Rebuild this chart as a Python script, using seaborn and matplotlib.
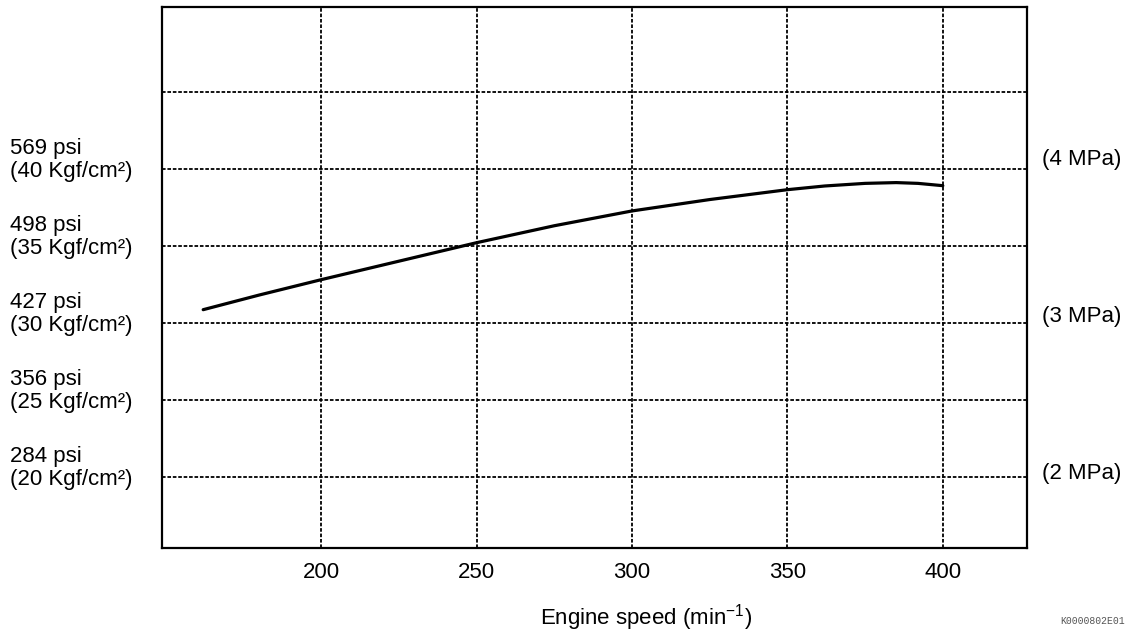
import numpy as np
import pandas as pd
import matplotlib
matplotlib.use("Agg")
import matplotlib.pyplot as plt
import seaborn as sns

# pressure curve (engine speed, kgf/cm2)
speed = [162, 180, 200, 225, 250, 275, 300, 325, 350, 362, 375, 385, 392, 400]
pressure = [30.85, 31.8, 32.8, 34.0, 35.2, 36.3, 37.26, 38.0, 38.64, 38.88, 39.05, 39.1, 39.05, 38.9]

x_ticks = [200, 250, 300, 350, 400]
kgf_ticks = [20, 25, 30, 35, 40]
psi_labels = ["284 psi", "356 psi", "427 psi", "498 psi", "569 psi"]
mpa_ticks = [2, 3, 4]

sns.set_theme(style="white")
plt.rcParams["font.family"] = ["Liberation Sans", "DejaVu Sans"]
plt.rcParams["mathtext.fontset"] = "custom"
plt.rcParams["mathtext.rm"] = "Liberation Sans"
plt.rcParams["mathtext.it"] = "Liberation Sans"
plt.rcParams["text.color"] = "black"
plt.rcParams["axes.labelcolor"] = "black"
plt.rcParams["xtick.color"] = "black"
plt.rcParams["ytick.color"] = "black"

fs = 16
fig = plt.figure(figsize=(11.33, 6.35), dpi=100)
ax = fig.add_axes([0.1434, 0.1375, 0.7628, 0.8515])

df = pd.DataFrame({"speed": speed, "pressure": pressure})
sns.lineplot(data=df, x="speed", y="pressure", color="black", linewidth=2.3, ax=ax)

ax.set_xlim(148.9, 427)
ax.set_ylim(15.4, 50.5)

ax.set_xticks(x_ticks)
ax.set_xticklabels([str(v) for v in x_ticks], fontsize=fs)
ax.set_yticks(kgf_ticks + [45])
ax.set_yticklabels([f"({v} Kgf/cm²)" for v in kgf_ticks] + [""], fontsize=fs)
for lab in ax.get_yticklabels():
    lab.set_horizontalalignment("left")
ax.tick_params(axis="y", length=0, pad=110)
ax.tick_params(axis="x", length=0, pad=10)

for v, txt in zip(kgf_ticks, psi_labels):
    ax.annotate(txt, xy=(10, v), xycoords=("figure pixels", "data"),
                xytext=(0, 14.6), textcoords="offset points",
                ha="left", va="center", fontsize=fs, color="black")

ax.grid(True, color="black", linestyle=(0, (2, 1)), linewidth=1.3)
for s in ax.spines.values():
    s.set_color("black")
    s.set_linewidth(1.6)

conv = 0.0980665
sec = ax.secondary_yaxis("right", functions=(lambda k: k * conv, lambda m: m / conv))
sec.set_yticks(mpa_ticks)
sec.set_yticklabels([f"({v} MPa)" for v in mpa_ticks], fontsize=fs)
sec.tick_params(length=0, pad=11, colors="black")
sec.spines["right"].set_visible(False)

ax.set_xlabel("Engine speed (min$^{-1}$)", fontsize=fs, color="black")
ax.set_ylabel("")
ax.xaxis.set_label_coords(0.5595, -0.1)

fig.text(0.993, 0.022, "K0000802E01", fontsize=7, family="Liberation Mono",
         color="#555555", ha="right", va="center")

fig.savefig("out.png", dpi=100, facecolor="white")
